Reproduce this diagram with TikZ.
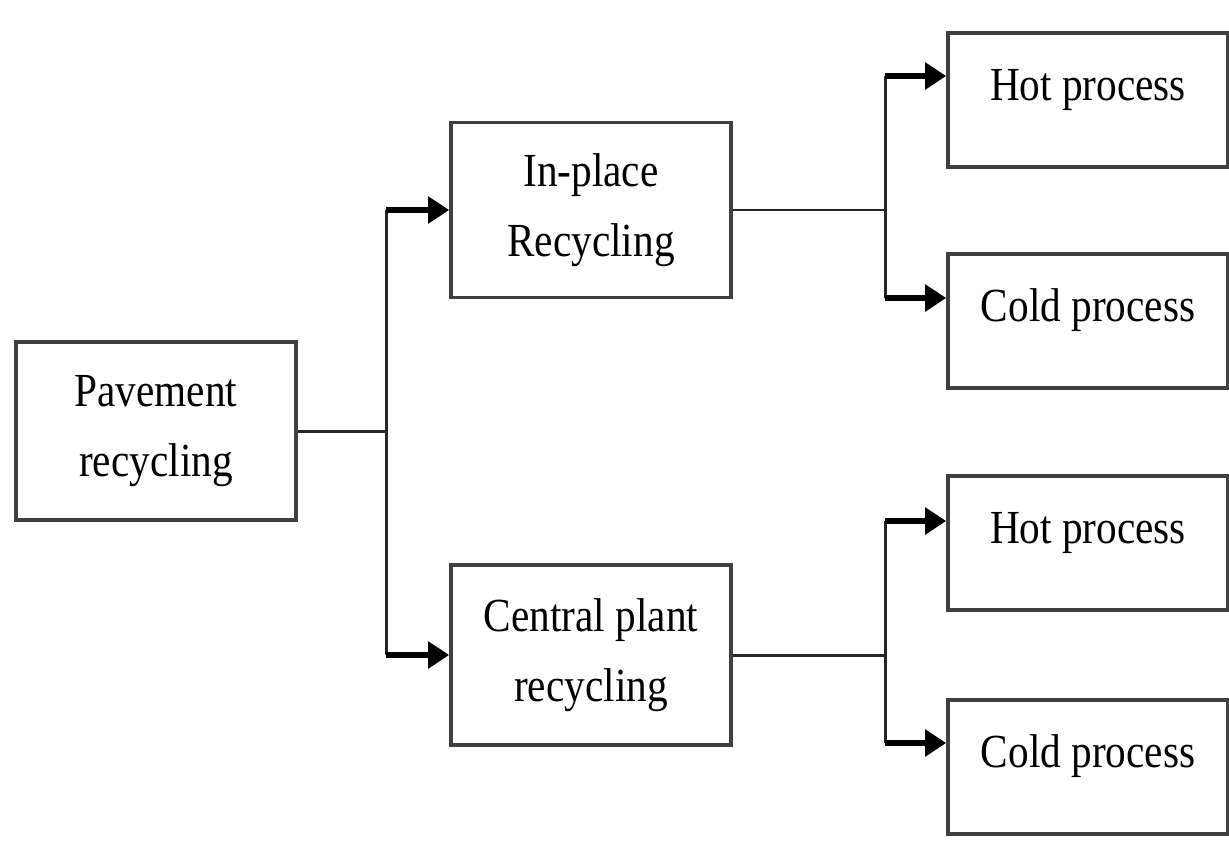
\documentclass[tikz,border=0pt]{standalone}
\usepackage{fontspec}
\newfontfamily\boxfont{Liberation Serif}[FakeStretch=0.87]
\usetikzlibrary{arrows.meta}

\begin{document}
\begin{tikzpicture}[x=0.02cm,y=-0.02cm,
	box/.style={draw=black!75,line width=2.1pt,align=center,inner sep=0pt,minimum width=5.6cm,font=\boxfont\fontsize{27}{40}\selectfont},
	procbox/.style={box,minimum height=2.68cm,text height=0.62cm,text depth=0.62cm},
	link/.style={draw=black!85,line width=1.7pt},
	arr/.style={black,line width=3.4pt,-{Triangle[length=0.42cm,width=0.52cm]}}]
			%\draw [help lines] (0,0) grid (1229,852);
			\useasboundingbox (0,0) rectangle (1229,852);

			\node[box,minimum height=3.56cm] (pav) at (156,431) {Pavement\\recycling};
			\node[box,minimum height=3.5cm] (inpl) at (591,210) {In-place\\Recycling};
			\node[box,minimum height=3.6cm] (cent) at (591,655) {Central plant\\recycling};

			\node[procbox] (hot1) at (1088,100) {Hot process};
			\node[procbox] (cold1) at (1088,321) {Cold process};
			\node[procbox] (hot2) at (1088,543) {Hot process};
			\node[procbox] (cold2) at (1088,767) {Cold process};


			\coordinate (j1) at (386,431);
			\draw[link] (pav.east) -- (j1);
			\draw[link] (inpl.west -| j1) -- (cent.west -| j1);
			\draw[arr] (inpl.west -| j1) -- (inpl.west);
			\draw[arr] (cent.west -| j1) -- (cent.west);

			\coordinate (j2) at (885,210);
			\coordinate (a1) at (885,76);
			\coordinate (a2) at (885,298);
			\draw[link] (inpl.east) -- (j2);
			\draw[link] (a1) -- (a2);
			\draw[arr] (a1) -- (a1 -| hot1.west);
			\draw[arr] (a2) -- (a2 -| cold1.west);

			\coordinate (j3) at (885,655);
			\coordinate (a3) at (885,521);
			\coordinate (a4) at (885,743);
			\draw[link] (cent.east) -- (j3);
			\draw[link] (a3) -- (a4);
			\draw[arr] (a3) -- (a3 -| hot2.west);
			\draw[arr] (a4) -- (a4 -| cold2.west);
		\end{tikzpicture}
\end{document}
